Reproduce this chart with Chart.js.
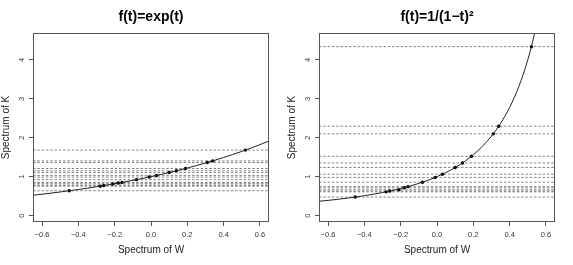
<!DOCTYPE html>
<html><head><meta charset="utf-8">
<script src="https://cdn.jsdelivr.net/npm/chart.js@4.4.1/dist/chart.umd.min.js"></script>
<style>
html,body{margin:0;padding:0;background:#fff;overflow:hidden}
#a{position:absolute;left:0;top:0}
#b{position:absolute;left:286px;top:0}
</style>
</head><body>
<canvas id="a" width="286" height="265"></canvas>
<canvas id="b" width="287" height="265"></canvas>
<script>
// Spectrum of W (eigenvalues)
const eigW = [-0.45, -0.28, -0.26, -0.21, -0.18, -0.16, -0.08, -0.01, 0.03, 0.10, 0.14, 0.19, 0.31, 0.34, 0.52];
// Spectrum of K for each panel
const kExp = [0.638, 0.756, 0.771, 0.811, 0.835, 0.852, 0.923, 0.990, 1.030, 1.105, 1.150, 1.209, 1.363, 1.405, 1.682];
const kInv = [0.476, 0.610, 0.630, 0.663, 0.713, 0.743, 0.857, 0.980, 1.063, 1.235, 1.352, 1.524, 2.100, 2.296, 4.340];
// Curve samples, f(t)=exp(t)
const curveTExp = [-0.65,-0.60,-0.55,-0.50,-0.45,-0.40,-0.35,-0.30,-0.25,-0.20,-0.15,-0.10,-0.05,0,0.05,0.10,0.15,0.20,0.25,0.30,0.35,0.40,0.45,0.50,0.55,0.60,0.65];
const curveExp = [0.5220,0.5488,0.5769,0.6065,0.6376,0.6703,0.7047,0.7408,0.7788,0.8187,0.8607,0.9048,0.9512,1.0000,1.0513,1.1052,1.1618,1.2214,1.2840,1.3499,1.4191,1.4918,1.5683,1.6487,1.7333,1.8221,1.9155];
// Curve samples, f(t)=1/(1-t)^2
const curveTInv = [-0.65,-0.60,-0.55,-0.50,-0.45,-0.40,-0.35,-0.30,-0.25,-0.20,-0.15,-0.10,-0.05,0,0.05,0.10,0.15,0.20,0.25,0.30,0.325,0.35,0.375,0.40,0.425,0.45,0.475,0.50,0.525,0.55];
const curveInv = [0.3673,0.3906,0.4162,0.4444,0.4756,0.5102,0.5487,0.5917,0.6400,0.6944,0.7561,0.8264,0.9070,1.0000,1.1080,1.2346,1.3841,1.5625,1.7778,2.0408,2.1948,2.3669,2.5600,2.7778,3.0246,3.3058,3.6281,4.0000,4.4321,4.9383];
// Axes
const xTicks = [-0.6, -0.4, -0.2, 0, 0.2, 0.4, 0.6];
const yTicks = [0, 1, 2, 3, 4];
const titles = ['f(t)=exp(t)', 'f(t)=1/(1\u2212t)\u00B2'];
const xLabel = 'Spectrum of W';
const yLabel = 'Spectrum of K';
const X_MIN = -0.65, X_MAX = 0.65, Y_MIN = -0.165, Y_MAX = 4.69;

const FAM = "'Liberation Sans', Arial, Helvetica, sans-serif";
const fmtX = v => (v < 0 ? '\u2212' : '') + Math.abs(v).toFixed(1);

const boxPlugin = {
  id: 'box',
  afterDatasetsDraw(chart) {
    const {ctx, chartArea: a} = chart;
    ctx.save();
    ctx.strokeStyle = '#555';
    ctx.lineWidth = 1;
    ctx.strokeRect(a.left + 0.5, a.top + 0.5, a.right - a.left - 1, a.bottom - a.top - 1);
    ctx.restore();
  }
};

function makeChart(id, title, cx, cy, kVals, rightPad) {
  const datasets = [];
  datasets.push({
    data: cx.map((x, i) => ({x, y: cy[i]})),
    showLine: true, pointRadius: 0, borderColor: '#222', borderWidth: 1,
    cubicInterpolationMode: 'monotone', clip: 0
  });
  datasets.push({
    data: eigW.map((x, i) => ({x, y: kVals[i]})),
    showLine: false, pointRadius: 1.7, backgroundColor: '#000', borderWidth: 0
  });
  kVals.forEach(k => {
    datasets.push({
      data: [{x: X_MIN, y: k}, {x: X_MAX, y: k}],
      showLine: true, pointRadius: 0, borderColor: '#777', borderWidth: 0.9,
      borderDash: [2.5, 1.8], clip: 0
    });
  });
  return new Chart(document.getElementById(id), {
    type: 'scatter',
    data: {datasets},
    plugins: [boxPlugin],
    options: {
      responsive: false, animation: false, devicePixelRatio: 1,
      layout: {padding: {left: 0, right: rightPad, top: 0, bottom: 0}},
      plugins: {
        legend: {display: false}, tooltip: {enabled: false},
        title: {display: true, text: title, fullSize: false, color: '#000',
          font: {size: 14, weight: 'bold', family: FAM}, padding: {top: 9, bottom: 7.2}}
      },
      scales: {
        x: {
          type: 'linear', position: 'bottom', min: X_MIN, max: X_MAX,
          afterBuildTicks: s => { s.ticks = xTicks.map(v => ({value: v})); },
          afterFit: s => { s.height = 43; },
          grid: {drawOnChartArea: false, drawTicks: true, tickLength: 4, color: '#555'},
          border: {display: false},
          ticks: {font: {size: 7.5, family: FAM}, color: '#333', padding: 4.5,
            minRotation: 0, maxRotation: 0, autoSkip: false, callback: v => fmtX(v)},
          title: {display: true, text: xLabel, color: '#222',
            font: {size: 10, family: FAM}, padding: {top: 0, bottom: 9}}
        },
        y: {
          type: 'linear', position: 'left', min: Y_MIN, max: Y_MAX,
          afterBuildTicks: s => { s.ticks = yTicks.map(v => ({value: v})); },
          afterFit: s => { s.width = 33; },
          grid: {drawOnChartArea: false, drawTicks: true, tickLength: 4, color: '#555'},
          border: {display: false},
          ticks: {font: {size: 7.5, family: FAM}, color: '#333', padding: 5.4,
            minRotation: 90, maxRotation: 90, crossAlign: 'center', autoSkip: false,
            callback: v => String(v)},
          title: {display: true, text: yLabel, color: '#222',
            font: {size: 10, family: FAM}, padding: {top: 0.5, bottom: 0}}
        }
      }
    }
  });
}

makeChart('a', titles[0], curveTExp, curveExp, kExp, 17);
makeChart('b', titles[1], curveTInv, curveInv, kInv, 18);
</script>
</body></html>
